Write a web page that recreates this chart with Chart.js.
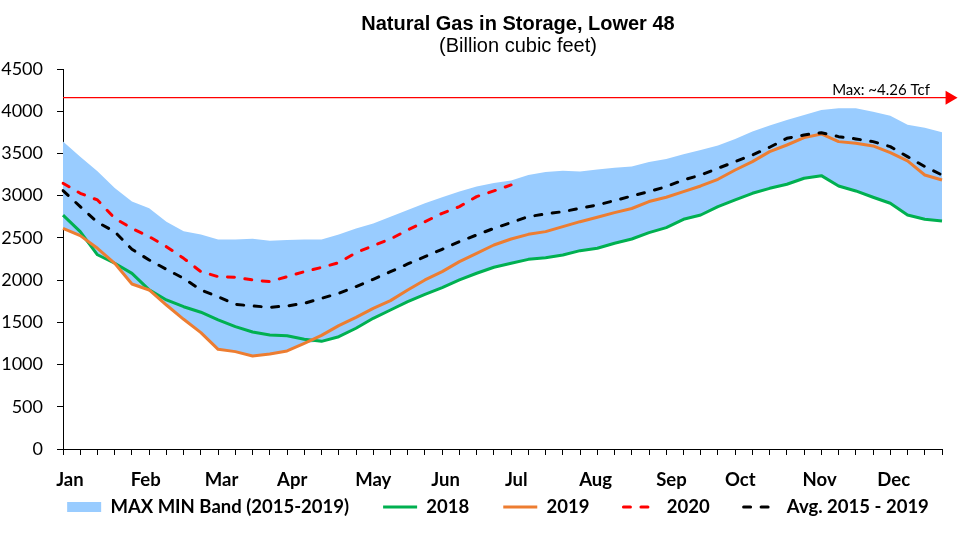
<!DOCTYPE html>
<html>
<head>
<meta charset="utf-8">
<script src="https://cdn.jsdelivr.net/npm/chart.js@4.4.1/dist/chart.umd.min.js"></script>
<style>
    html, body { margin: 0; padding: 0; background: #fff; overflow: hidden; }
    #wrap { position: relative; width: 962px; height: 537px; }
    .head {
        position: absolute; left: 318px; width: 400px; text-align: center;
        font-family: "Liberation Sans", Arial, sans-serif; font-size: 20px;
        line-height: 24px; color: #000; white-space: nowrap;
    }
    #title { top: 11px; font-weight: bold; }
    #subtitle { top: 33px; }
    canvas { position: absolute; left: 0; top: 0; }
</style>
</head>
<body>
<div id="wrap">
    <canvas id="storageChart" width="962" height="537"></canvas>
    <div id="title" class="head">Natural Gas in Storage, Lower 48</div>
    <div id="subtitle" class="head">(Billion cubic feet)</div>
</div>
<script>
// weekly points, Jan..Dec (52 weeks)
const weeks = Array.from({ length: 52 }, (_, i) => i + 1);

const monthLabels = ['Jan', 'Feb', 'Mar', 'Apr', 'May', 'Jun', 'Jul', 'Aug', 'Sep', 'Oct', 'Nov', 'Dec'];
// week index where each month label sits
const monthTickAt = [0.4, 4.8, 9.2, 13.3, 18.0, 22.2, 26.3, 30.9, 35.3, 39.3, 43.9, 48.2];

const yTicks = [0, 500, 1000, 1500, 2000, 2500, 3000, 3500, 4000, 4500];

const bandMax = [
    3640, 3460, 3290, 3090, 2930, 2850, 2690, 2580, 2540, 2480, 2480, 2490, 2465,
    2475, 2480, 2480, 2540, 2610, 2670, 2750, 2830, 2910, 2980, 3050, 3110, 3150,
    3180, 3245, 3280, 3295, 3285, 3310, 3330, 3345, 3400, 3435, 3490, 3540, 3595,
    3670, 3760, 3830, 3895, 3955, 4015, 4035, 4035, 3995, 3945, 3840, 3805, 3750
];
const bandMin = [
    2613, 2527, 2300, 2199, 1954, 1883, 1705, 1536, 1378, 1180, 1153, 1101, 1125,
    1161, 1251, 1275, 1330, 1430, 1548, 1646, 1745, 1832, 1911, 2002, 2081, 2152,
    2199, 2246, 2266, 2298, 2349, 2377, 2436, 2487, 2562, 2621, 2720, 2771, 2870,
    2949, 3028, 3087, 3135, 3206, 3237, 3115, 3056, 2981, 2910, 2771, 2720, 2700
];
const s2018 = [
    2770, 2575, 2300, 2200, 2080, 1885, 1765, 1685, 1620, 1530, 1450, 1385, 1350,
    1340, 1300, 1275, 1330, 1430, 1548, 1646, 1745, 1832, 1911, 2002, 2081, 2152,
    2199, 2246, 2266, 2298, 2349, 2377, 2436, 2487, 2562, 2621, 2720, 2771, 2870,
    2949, 3028, 3087, 3135, 3206, 3237, 3115, 3056, 2981, 2910, 2771, 2720, 2700
];
const s2019 = [
    2613, 2527, 2377, 2199, 1954, 1883, 1705, 1536, 1378, 1180, 1153, 1101, 1125,
    1161, 1251, 1345, 1461, 1559, 1666, 1757, 1883, 2002, 2100, 2219, 2317, 2416,
    2487, 2542, 2574, 2633, 2692, 2744, 2799, 2848, 2930, 2981, 3048, 3115, 3194,
    3304, 3403, 3522, 3600, 3687, 3731, 3640, 3620, 3589, 3510, 3411, 3245, 3186
];
const s2020 = [
    3147, 3028, 2949, 2732, 2613, 2515, 2396, 2258, 2100, 2041, 2033, 2002, 1982,
    2041, 2100, 2150, 2207, 2325, 2408, 2487, 2594, 2692, 2791, 2870, 2989, 3056,
    3127
];
const avg1519 = [
    3060, 2870, 2685, 2574, 2365, 2238, 2128, 2021, 1883, 1804, 1713, 1694, 1678,
    1694, 1725, 1784, 1844, 1923, 2010, 2100, 2191, 2278, 2365, 2456, 2535, 2613,
    2681, 2752, 2783, 2811, 2850, 2890, 2941, 2996, 3048, 3107, 3186, 3245, 3324,
    3403, 3482, 3573, 3679, 3719, 3746, 3699, 3672, 3640, 3581, 3462, 3344, 3245
];

// storage capacity marker (drawn level) and where the arrow sits, in weeks
const capacityLevel = 4160;
const capacityArrowAt = 51.44;
const capacityText = 'Max: ~4.26 Tcf';

const bandColor = '#99ccff';
const dash = [7, 10.5];

const capacityLabel = {
    id: 'capacityLabel',
    afterDatasetsDraw(chart) {
        const { ctx, scales } = chart;
        const y = scales.y.getPixelForValue(capacityLevel);
        ctx.save();
        ctx.font = '15px Lato';
        ctx.fillStyle = '#000';
        ctx.textAlign = 'right';
        ctx.textBaseline = 'alphabetic';
        ctx.fillText(capacityText, scales.x2.getPixelForValue(51) - 12, y - 3);
        ctx.restore();
    }
};

Chart.defaults.font.family = 'Lato';
Chart.defaults.color = '#000';

const ctx = document.getElementById('storageChart').getContext('2d');
new Chart(ctx, {
    type: 'line',
    data: {
        labels: weeks,
        datasets: [
            {
                label: 'MAX MIN Band (2015-2019)',
                data: bandMax,
                xAxisID: 'x',
                fill: '+1',
                backgroundColor: bandColor,
                borderColor: bandColor,
                borderWidth: 0,
                pointRadius: 0,
                order: 10
            },
            {
                label: 'band min',
                data: bandMin,
                xAxisID: 'x',
                fill: false,
                borderWidth: 0,
                pointRadius: 0,
                showInLegend: false,
                order: 10
            },
            {
                label: '2018',
                data: s2018,
                xAxisID: 'x',
                borderColor: '#00b050',
                borderWidth: 3,
                pointRadius: 0,
                order: 5
            },
            {
                label: '2019',
                data: s2019,
                xAxisID: 'x',
                borderColor: '#ed7d31',
                borderWidth: 3,
                pointRadius: 0,
                order: 4
            },
            {
                label: '2020',
                data: s2020,
                xAxisID: 'x',
                borderColor: '#ff0000',
                borderWidth: 3,
                borderDash: dash,
                borderCapStyle: 'round',
                pointRadius: 0,
                order: 3
            },
            {
                label: 'Avg. 2015 - 2019',
                data: avg1519,
                xAxisID: 'x',
                borderColor: '#000000',
                borderWidth: 3,
                borderDash: dash,
                borderCapStyle: 'round',
                pointRadius: 0,
                order: 2
            },
            {
                label: 'capacity',
                data: [{ x: 0, y: capacityLevel }, { x: capacityArrowAt, y: capacityLevel }],
                xAxisID: 'x2',
                borderColor: '#ff0000',
                borderWidth: 1.3,
                pointRadius: [0, 5],
                pointStyle: 'triangle',
                pointRotation: 90,
                pointBackgroundColor: '#ff0000',
                pointBorderColor: '#ff0000',
                pointBorderWidth: 3,
                clip: false,
                showInLegend: false,
                order: 1
            }
        ]
    },
    options: {
        responsive: false,
        animation: false,
        layout: { padding: { top: 69, left: 0, right: 0, bottom: 10.75 } },
        elements: { line: { tension: 0, borderJoinStyle: 'round' } },
        scales: {
            x: {
                type: 'category',
                position: 'bottom',
                weight: 0,
                offset: false,
                grid: { display: true, drawOnChartArea: false, drawTicks: true, tickLength: 6, color: '#000' },
                border: { display: true, color: '#000', width: 1 },
                ticks: { display: false },
                afterFit(scale) { scale.height = 6; }
            },
            x2: {
                type: 'linear',
                position: 'bottom',
                weight: 1,
                min: 0,
                max: 51,
                grid: { display: false, drawTicks: false },
                border: { display: false },
                ticks: {
                    autoSkip: false,
                    maxRotation: 0,
                    padding: 13.9,
                    font: { size: 18.5, weight: 'bold' },
                    color: '#000',
                    callback: (value, index) => monthLabels[index]
                },
                afterBuildTicks(scale) {
                    scale.ticks = monthTickAt.map(v => ({ value: v }));
                },
                afterFit(scale) { scale.height = 42.75; }
            },
            y: {
                min: 0,
                max: 4500,
                grid: { display: true, drawOnChartArea: false, drawTicks: true, tickLength: 6, color: '#000' },
                border: { display: true, color: '#000', width: 1 },
                ticks: {
                    padding: 14,
                    font: { size: 18 },
                    color: '#000',
                    callback: value => String(value)
                },
                afterBuildTicks(scale) {
                    scale.ticks = yTicks.map(v => ({ value: v }));
                },
                afterFit(scale) { scale.width = 63; }
            },
            // empty right margin so the plot ends where the reference does
            yRight: {
                type: 'linear',
                position: 'right',
                min: 0,
                max: 1,
                grid: { display: false },
                border: { display: false },
                ticks: { display: false },
                afterFit(scale) { scale.width = 20; }
            }
        },
        plugins: {
            filler: { drawTime: 'beforeDatasetsDraw' },
            tooltip: { enabled: false },
            legend: {
                position: 'bottom',
                align: 'center',
                labels: {
                    usePointStyle: true,
                    pointStyleWidth: 68,
                    boxHeight: 10,
                    padding: 0,
                    color: '#000',
                    font: { size: 18.5, weight: 'bold' },
                    generateLabels(chart) {
                        return chart.data.datasets
                            .map((ds, i) => ({
                                text: ds.label,
                                fillStyle: 'rgba(0,0,0,0)',
                                strokeStyle: ds.fill ? ds.backgroundColor : ds.borderColor,
                                lineWidth: ds.fill ? 10 : ds.borderWidth,
                                lineDash: ds.borderDash || [],
                                lineCap: ds.borderCapStyle || 'butt',
                                pointStyle: 'dash',
                                fontColor: '#000',
                                hidden: false,
                                datasetIndex: i,
                                inLegend: ds.showInLegend !== false
                            }))
                            .filter(item => item.inLegend);
                    }
                }
            }
        }
    },
    plugins: [capacityLabel]
});
</script>
</body>
</html>
